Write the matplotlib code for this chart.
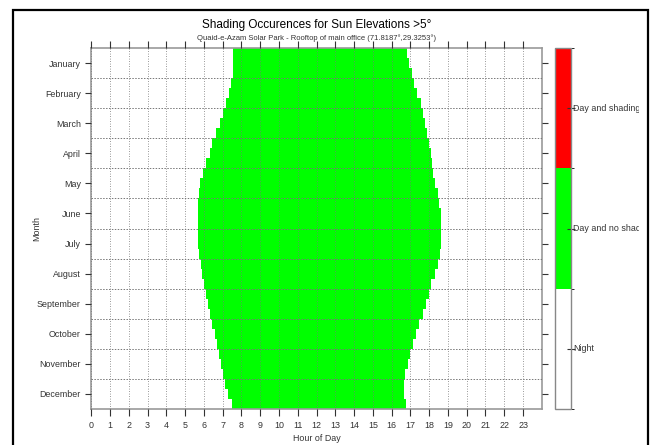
import matplotlib
matplotlib.use("Agg")
import matplotlib.pyplot as plt
import numpy as np
from matplotlib.colors import ListedColormap, BoundaryNorm
from matplotlib.cm import ScalarMappable
from matplotlib.patches import Rectangle
from matplotlib.transforms import Bbox, TransformedBbox

plt.rcParams['font.family'] = ['Liberation Sans Narrow', 'Liberation Sans', 'DejaVu Sans']

months = ["January", "February", "March", "April", "May", "June",
          "July", "August", "September", "October", "November", "December"]

# sunrise / sunset (hour of day), three rows per month
sunrise = [7.55, 7.55, 7.55, 7.45, 7.35, 7.15, 7.00, 6.85, 6.65,
           6.45, 6.30, 6.10, 5.95, 5.80, 5.72, 5.69, 5.69, 5.69,
           5.69, 5.69, 5.75, 5.84, 5.92, 6.00, 6.12, 6.22, 6.31,
           6.45, 6.60, 6.72, 6.82, 6.92, 7.00, 7.12, 7.30, 7.50]
sunset = [16.81, 16.95, 17.08, 17.20, 17.35, 17.55, 17.68, 17.78, 17.90,
          18.00, 18.08, 18.15, 18.23, 18.30, 18.46, 18.50, 18.64, 18.64,
          18.64, 18.64, 18.60, 18.46, 18.30, 18.12, 18.00, 17.84, 17.66,
          17.45, 17.30, 17.13, 17.00, 16.85, 16.70, 16.65, 16.65, 16.75]

states = ["Night", "Day and no shading", "Day and shading"]
state_colors = ["#ffffff", "#00ff00", "#ff0000"]

fig = plt.figure(figsize=(6.52, 4.45), dpi=100)
ax = fig.add_axes([0.140, 0.081, 0.691, 0.811])

rows = np.arange(len(sunrise))
yc = (rows + 0.5) / 3.0
ax.barh(yc, np.array(sunset) - np.array(sunrise), left=sunrise, height=1/3,
        color=state_colors[1], linewidth=0)

ax.set_xlim(0, 24)
ax.set_ylim(12, 0)
ax.set_xticks(range(24))
ax.set_yticks(np.arange(12) + 0.5)
ax.set_yticklabels(months)
ax.set_yticks(np.arange(1, 12), minor=True)
ax.tick_params(axis='y', which='minor', length=0)
ax.tick_params(axis='both', which='major', labelsize=6.4, colors='#333333',
               length=4, width=0.8)
ax.tick_params(axis='x', top=True, direction='out', length=5)
ax.tick_params(axis='y', right=True, direction='out')
for lab in ax.get_xticklabels() + ax.get_yticklabels():
    lab.set_color('#333333')
ax.grid(True, axis='x', which='major', color='#777777', linestyle=(0, (1, 2)), linewidth=0.6)
ax.grid(True, axis='y', which='minor', color='#777777', linestyle=(0, (1.5, 1.5)), linewidth=0.7)
ax.set_axisbelow(False)
for s in ax.spines.values():
    s.set_color('#999999')
    s.set_linewidth(1.2)

ax.set_xlabel("Hour of Day", fontsize=6.4, color='#333333', labelpad=3)
ax.set_ylabel("Month", fontsize=6.4, color='#333333')
ax.yaxis.set_label_coords(-0.11, 0.5)
fig.text(0.486, 0.944, "Shading Occurences for Sun Elevations >5\u00b0",
         ha='center', va='center', fontsize=8.5)
fig.text(0.486, 0.915, "Quaid-e-Azam Solar Park - Rooftop of main office (71.8187\u00b0,29.3253\u00b0)",
         ha='center', va='center', fontsize=5.5, color='#333333')

# colour bar
cax = fig.add_axes([0.851, 0.081, 0.0253, 0.811])
cmap = ListedColormap(state_colors)
norm = BoundaryNorm([-0.5, 0.5, 1.5, 2.5], cmap.N)
cb = fig.colorbar(ScalarMappable(norm=norm, cmap=cmap), cax=cax, ticks=[0, 1, 2])
cb.outline.set_edgecolor('#888888')
cb.outline.set_linewidth(1.0)
cax.tick_params(direction='inout', length=6, width=0.8, labelsize=6.4,
                colors='#333333', labelright=False)
clip = TransformedBbox(Bbox([[0, 0], [639 / 652, 1]]), fig.transFigure)
for i, name in enumerate(states):
    t = cax.text(1.12, (i + 0.5) / 3, name, transform=cax.transAxes,
                 ha='left', va='center', fontsize=6.4, color='#333333')
    t.set_clip_on(True)
    t.set_clip_box(clip)

# outer frame
fig.add_artist(Rectangle((13 / 652, -0.1), 635 / 652, 1.1 - 10 / 445,
                         transform=fig.transFigure, fill=False,
                         edgecolor='black', linewidth=1.6))

fig.savefig("out.png", dpi=100)
